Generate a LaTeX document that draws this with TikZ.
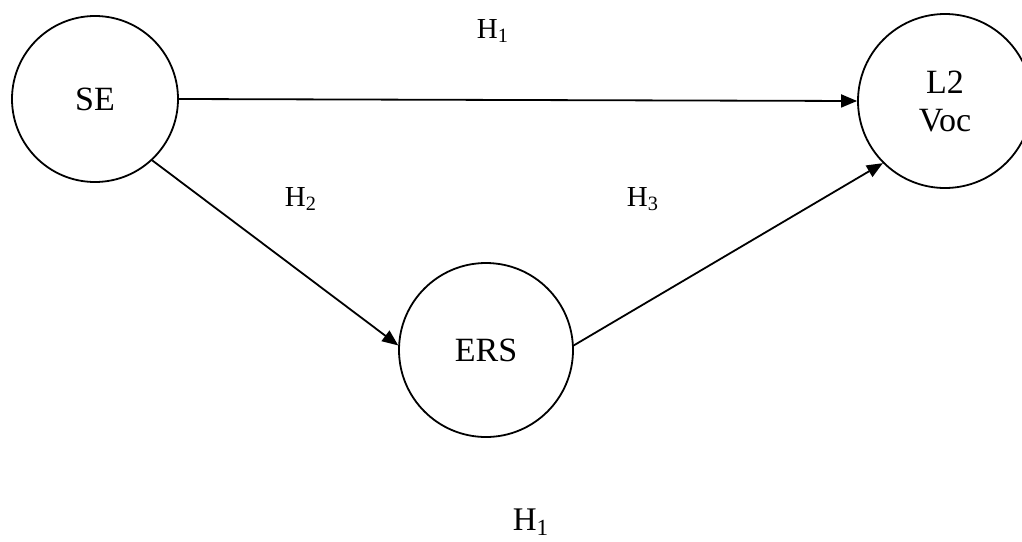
\documentclass[tikz,border=0pt]{standalone}
\usepackage{fontspec}
\setmainfont{Liberation Serif}
\usetikzlibrary{arrows.meta}

\begin{document}
\begin{tikzpicture}[x=0.5pt,y=-0.5pt,
  var/.style={circle,draw,line width=0.9pt,minimum size=#1,inner sep=0pt,align=center,font=\fontsize{17}{19}\selectfont},
  hyp/.style={font=\fontsize{14.5}{16}\selectfont},
  link/.style={line width=0.9pt,-{Triangle[length=8pt,width=6.5pt]}}]
\useasboundingbox (0,0) rectangle (1022,541);
\begin{scope}
\clip (0,0) rectangle (1022,541);

% variables
\node[var=83pt] (se) at (95,99) {SE};
\node[var=87pt] (l2) at (945,101) {L2\\Voc};
\node[var=87pt] (ers) at (486,350) {ERS};

% paths
\draw[link] (se.east) -- (l2.west);
\draw[link] (se.-47) -- (ers.177);
\draw[link] (ers.3) -- (l2.225);
\end{scope}

% hypotheses
\node[hyp] (h1) at (493,31) {H\textsubscript{1}};
\node[hyp] (h2) at (301,199) {H\textsubscript{2}};
\node[hyp] (h3) at (643,199) {H\textsubscript{3}};
\node[font=\fontsize{16.5}{19}\selectfont] (h1b) at (531,522) {H\textsubscript{1}};
\end{tikzpicture}
\end{document}
